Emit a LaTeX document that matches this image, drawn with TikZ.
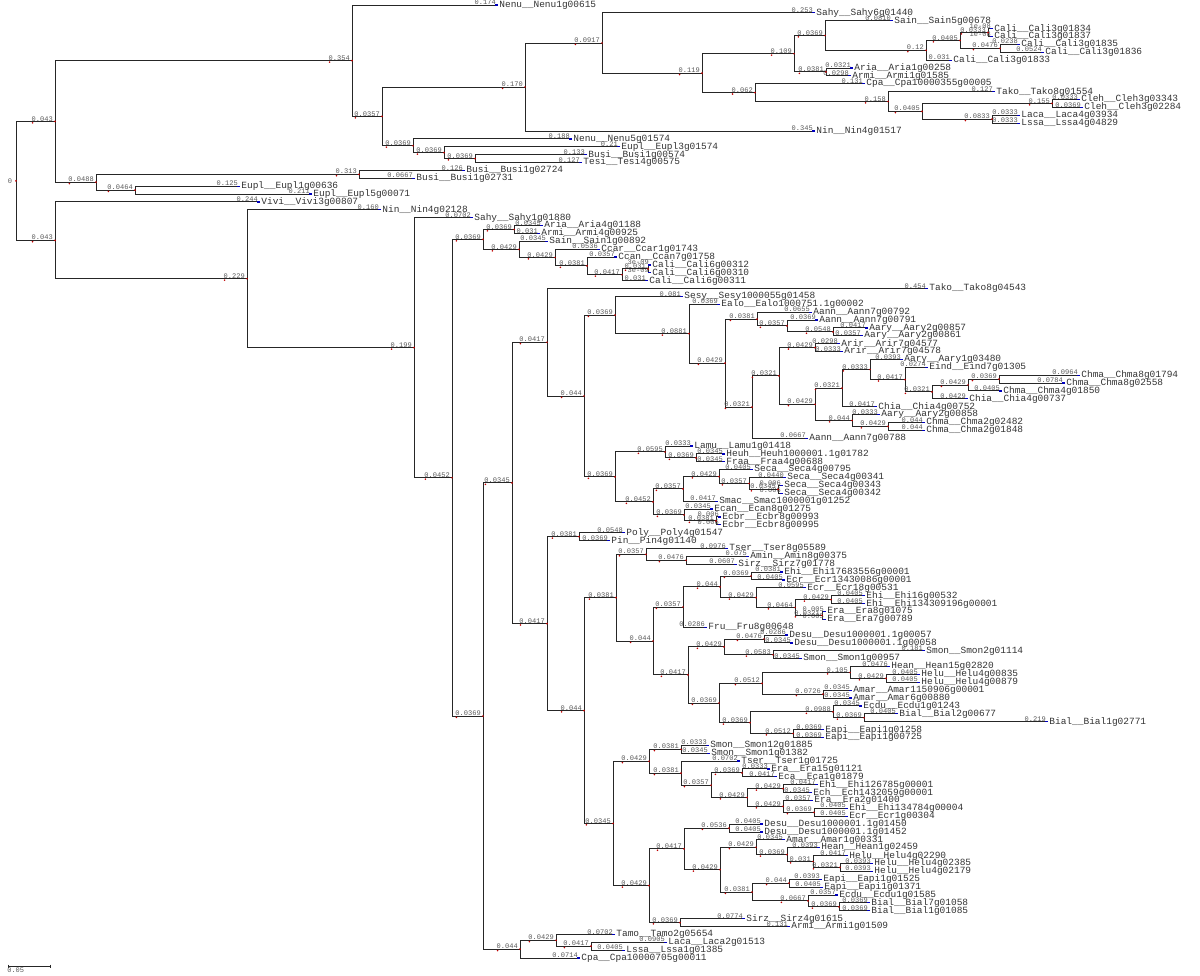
\documentclass[tikz,border=0pt]{standalone}
\usepackage{fontspec}
\newfontfamily\treefont{Liberation Mono}
\usetikzlibrary{calc}
\pgfdeclarelayer{bg}
\pgfsetlayers{bg,main}

\tikzset{
  branch/.style={draw=black!85, line width=0.55pt},
  tipmark/.style={draw=blue!75!black, line width=0.7pt},
  nodemark/.style={fill=red!75!black},
  blen/.style={anchor=south east, inner sep=0.2pt, xshift=-0.8pt, yshift=-0.3pt,
    text=black!65, font=\treefont\fontsize{4}{4}\selectfont},
  taxonlabel/.style={anchor=west, inner sep=0.6pt, text=black!80,
    font=\treefont\fontsize{5.4}{6}\selectfont},
}

% a tip: name, x (px), row, label
\newcommand{\taxon}[4]{%
  \coordinate (#1) at (#2,{5+7.876*#3});
  \expandafter\def\csname isleaf#1\endcsname{}%
  \draw[tipmark] (#1) -- ++(-3.5,0);
  \node[taxonlabel] (#1lab) at (#1) {\detokenize{#4}};}

% a clade: name, x (px), child, length, child, length
\newcommand{\clade}[6]{%
  \path let \p1=(#3), \p2=(#5) in coordinate (#1) at ({#2*0.02cm},{(\y1+\y2)/2});
  \begin{pgfonlayer}{bg}
    \draw[branch] (#1) |- (#3) node[blen] (#3len) {#4};
    \draw[branch] (#1) |- (#5) node[blen] (#5len) {#6};
  \end{pgfonlayer}
  \fill[nodemark] (#1) circle (0.55pt);
  \ifcsname isleaf#3\endcsname\else\fill[nodemark] ([shift={(1pt,-0.5pt)}]#3len.south west) circle (0.5pt);\fi
  \ifcsname isleaf#5\endcsname\else\fill[nodemark] ([shift={(1pt,-0.5pt)}]#5len.south west) circle (0.5pt);\fi}

\begin{document}
\begin{tikzpicture}[x=0.02cm,y=-0.02cm]
\useasboundingbox (0,0) rectangle (1200,976);

% tips, top to bottom
\taxon{t0}{498}{0}{Nenu__Nenu1g00615}
\taxon{t1}{815}{1}{Sahy__Sahy6g01440}
\taxon{t2}{893}{2}{Sain__Sain5g00678}
\taxon{t3}{993}{3}{Cali__Cali3g01834}
\taxon{t4}{993}{4}{Cali__Cali3g01837}
\taxon{t5}{1020}{5}{Cali__Cali3g01835}
\taxon{t6}{1044}{6}{Cali__Cali3g01836}
\taxon{t7}{952}{7}{Cali__Cali3g01833}
\taxon{t8}{853}{8}{Aria__Aria1g00258}
\taxon{t9}{851}{9}{Armi__Armi1g01585}
\taxon{t10}{865}{10}{Cpa__Cpa10000355g00005}
\taxon{t11}{995}{11}{Tako__Tako8g01554}
\taxon{t12}{1080}{12}{Cleh__Cleh3g03343}
\taxon{t13}{1083}{13}{Cleh__Cleh3g02284}
\taxon{t14}{1020}{14}{Laca__Laca4g03934}
\taxon{t15}{1020}{15}{Lssa__Lssa4g04829}
\taxon{t16}{815}{16}{Nin__Nin4g01517}
\taxon{t17}{572}{17}{Nenu__Nenu5g01574}
\taxon{t18}{620}{18}{Eupl__Eupl3g01574}
\taxon{t19}{587}{19}{Busi__Busi1g00574}
\taxon{t20}{582}{20}{Tesi__Tesi4g00575}
\taxon{t21}{465}{21}{Busi__Busi1g02724}
\taxon{t22}{415}{22}{Busi__Busi1g02731}
\taxon{t23}{240}{23}{Eupl__Eupl1g00636}
\taxon{t24}{312}{24}{Eupl__Eupl5g00071}
\taxon{t25}{260}{25}{Vivi__Vivi3g00807}
\taxon{t26}{381}{26}{Nin__Nin4g02128}
\taxon{t27}{473}{27}{Sahy__Sahy1g01880}
\taxon{t28}{543}{28}{Aria__Aria4g01188}
\taxon{t29}{540}{29}{Armi__Armi4g00925}
\taxon{t30}{548}{30}{Sain__Sain1g00892}
\taxon{t31}{600}{31}{Ccar__Ccar1g01743}
\taxon{t32}{617}{32}{Ccan__Ccan7g01758}
\taxon{t33}{651}{33}{Cali__Cali6g00312}
\taxon{t34}{651}{34}{Cali__Cali6g00310}
\taxon{t35}{648}{35}{Cali__Cali6g00311}
\taxon{t36}{928}{36}{Tako__Tako8g04543}
\taxon{t37}{683}{37}{Sesy__Sesy1000055g01458}
\taxon{t38}{720}{38}{Ealo__Ealo1000751.1g00002}
\taxon{t39}{812}{39}{Aann__Aann7g00792}
\taxon{t40}{818}{40}{Aann__Aann7g00791}
\taxon{t41}{868}{41}{Aary__Aary2g00857}
\taxon{t42}{863}{42}{Aary__Aary2g00861}
\taxon{t43}{840}{43}{Arir__Arir7g04577}
\taxon{t44}{843}{44}{Arir__Arir7g04578}
\taxon{t45}{903}{45}{Aary__Aary1g03480}
\taxon{t46}{928}{46}{Eind__Eind7g01305}
\taxon{t47}{1080}{47}{Chma__Chma8g01794}
\taxon{t48}{1065}{48}{Chma__Chma8g02558}
\taxon{t49}{1002}{49}{Chma__Chma4g01850}
\taxon{t50}{968}{50}{Chia__Chia4g00737}
\taxon{t51}{877}{51}{Chia__Chia4g00752}
\taxon{t52}{880}{52}{Aary__Aary2g00858}
\taxon{t53}{925}{53}{Chma__Chma2g02482}
\taxon{t54}{925}{54}{Chma__Chma2g01848}
\taxon{t55}{808}{55}{Aann__Aann7g00788}
\taxon{t56}{693}{56}{Lamu__Lamu1g01418}
\taxon{t57}{725}{57}{Heuh__Heuh1000001.1g01782}
\taxon{t58}{725}{58}{Fraa__Fraa4g00688}
\taxon{t59}{753}{59}{Seca__Seca4g00795}
\taxon{t60}{786}{60}{Seca__Seca4g00341}
\taxon{t61}{783}{61}{Seca__Seca4g00343}
\taxon{t62}{783}{62}{Seca__Seca4g00342}
\taxon{t63}{718}{63}{Smac__Smac1000001g01252}
\taxon{t64}{713}{64}{Ecan__Ecan8g01275}
\taxon{t65}{721}{65}{Ecbr__Ecbr8g00993}
\taxon{t66}{721}{66}{Ecbr__Ecbr8g00995}
\taxon{t67}{625}{67}{Poly__Poly4g01547}
\taxon{t68}{610}{68}{Pin__Pin4g01140}
\taxon{t69}{728}{69}{Tser__Tser8g05589}
\taxon{t70}{749}{70}{Amin__Amin8g00375}
\taxon{t71}{737}{71}{Sirz__Sirz7g01778}
\taxon{t72}{783}{72}{Ehi__Ehi17683556g00001}
\taxon{t73}{785}{73}{Ecr__Ecr13430086g00001}
\taxon{t74}{806}{74}{Ecr__Ecr18g00531}
\taxon{t75}{865}{75}{Ehi__Ehi16g00532}
\taxon{t76}{865}{76}{Ehi__Ehi134309196g00001}
\taxon{t77}{826}{77}{Era__Era8g01075}
\taxon{t78}{826}{78}{Era__Era7g00789}
\taxon{t79}{707}{79}{Fru__Fru8g00648}
\taxon{t80}{788}{80}{Desu__Desu1000001.1g00057}
\taxon{t81}{793}{81}{Desu__Desu1000001.1g00058}
\taxon{t82}{925}{82}{Smon__Smon2g01114}
\taxon{t83}{802}{83}{Smon__Smon1g00957}
\taxon{t84}{890}{84}{Hean__Hean15g02820}
\taxon{t85}{920}{85}{Helu__Helu4g00835}
\taxon{t86}{920}{86}{Helu__Helu4g00879}
\taxon{t87}{852}{87}{Amar__Amar1150906g00001}
\taxon{t88}{852}{88}{Amar__Amar6g00880}
\taxon{t89}{862}{89}{Ecdu__Ecdu1g01243}
\taxon{t90}{898}{90}{Bial__Bial2g00677}
\taxon{t91}{1048}{91}{Bial__Bial1g02771}
\taxon{t92}{824}{92}{Eapi__Eapi1g01258}
\taxon{t93}{824}{93}{Eapi__Eapi1g00725}
\taxon{t94}{709}{94}{Smon__Smon12g01885}
\taxon{t95}{710}{95}{Smon__Smon1g01382}
\taxon{t96}{740}{96}{Tser__Tser1g01725}
\taxon{t97}{770}{97}{Era__Era15g01121}
\taxon{t98}{777}{98}{Eca__Eca1g01879}
\taxon{t99}{818}{99}{Ehi__Ehi126785g00001}
\taxon{t100}{812}{100}{Ech__Ech1432059g00001}
\taxon{t101}{813}{101}{Era__Era2g01400}
\taxon{t102}{848}{102}{Ehi__Ehi134784g00004}
\taxon{t103}{848}{103}{Ecr__Ecr1g00304}
\taxon{t104}{763}{104}{Desu__Desu1000001.1g01450}
\taxon{t105}{763}{105}{Desu__Desu1000001.1g01452}
\taxon{t106}{785}{106}{Amar__Amar1g00331}
\taxon{t107}{820}{107}{Hean__Hean1g02459}
\taxon{t108}{848}{108}{Helu__Helu4g02290}
\taxon{t109}{873}{109}{Helu__Helu4g02385}
\taxon{t110}{873}{110}{Helu__Helu4g02179}
\taxon{t111}{822}{111}{Eapi__Eapi1g01525}
\taxon{t112}{823}{112}{Eapi__Eapi1g01371}
\taxon{t113}{838}{113}{Ecdu__Ecdu1g01585}
\taxon{t114}{870}{114}{Bial__Bial7g01058}
\taxon{t115}{870}{115}{Bial__Bial1g01085}
\taxon{t116}{745}{116}{Sirz__Sirz4g01615}
\taxon{t117}{790}{117}{Armi__Armi1g01509}
\taxon{t118}{615}{118}{Tamo__Tamo2g05654}
\taxon{t119}{667}{119}{Laca__Laca2g01513}
\taxon{t120}{625}{120}{Lssa__Lssa1g01385}
\taxon{t121}{580}{121}{Cpa__Cpa10000705g00011}

% upper clade
\clade{M}{988}{t3}{1e-08}{t4}{1e-08}
\clade{N}{1000}{t5}{0.0238}{t6}{0.0524}
\clade{L}{960}{M}{0.0333}{N}{0.0476}
\clade{K}{926}{L}{0.0405}{t7}{0.031}
\clade{I}{825}{t2}{0.0810}{K}{0.12}
\clade{J}{826}{t8}{0.0321}{t9}{0.0298}
\clade{G}{794}{I}{0.0369}{J}{0.0381}
\clade{P}{1052}{t12}{0.0333}{t13}{0.0369}
\clade{Q}{992}{t14}{0.0333}{t15}{0.0333}
\clade{O}{922}{P}{0.155}{Q}{0.0833}
\clade{H2}{888}{t11}{0.127}{O}{0.0405}
\clade{H}{755}{t10}{0.131}{H2}{0.158}
\clade{F}{702}{G}{0.109}{H}{0.062}
\clade{E}{602}{t1}{0.253}{F}{0.119}
\clade{C}{525}{E}{0.0917}{t16}{0.345}
\clade{D3}{475}{t19}{0.133}{t20}{0.127}
\clade{D2}{444}{t18}{0.21}{D3}{0.0369}
\clade{D}{413}{t17}{0.188}{D2}{0.0369}
\clade{A1b}{382}{C}{0.170}{D}{0.0369}
\clade{A1}{352}{t0}{0.174}{A1b}{0.0357}
\clade{R}{359}{t21}{0.126}{t22}{0.0667}
\clade{S}{135}{t23}{0.125}{t24}{0.211}
\clade{A2}{96}{R}{0.313}{S}{0.0464}
\clade{A}{55}{A1}{0.354}{A2}{0.0488}

% lower clade
\clade{V7}{648}{t33}{3e-09}{t34}{3e-09}
\clade{V6}{622}{V7}{0.031}{t35}{0.031}
\clade{V5}{587}{t32}{0.0357}{V6}{0.0417}
\clade{V4}{555}{t31}{0.0536}{V5}{0.0381}
\clade{V3}{519}{t30}{0.0345}{V4}{0.0429}
\clade{V2}{514}{t28}{0.0345}{t29}{0.031}
\clade{V1}{483}{V2}{0.0369}{V3}{0.0429}
\clade{zg}{833}{t41}{0.0417}{t42}{0.0357}
\clade{zf}{787}{t40}{0.0369}{zg}{0.0548}
\clade{zd}{757}{t39}{0.0655}{zf}{0.0357}
\clade{zi}{815}{t43}{0.0298}{t44}{0.0333}
\clade{zq}{999}{t47}{0.0964}{t48}{0.0784}
\clade{zp}{968}{zq}{0.0369}{t49}{0.0405}
\clade{zo}{932}{zp}{0.0429}{t50}{0.0429}
\clade{zn}{905}{t46}{0.0274}{zo}{0.0321}
\clade{zm}{870}{t45}{0.0393}{zn}{0.0417}
\clade{zk}{842}{zm}{0.0333}{t51}{0.0417}
\clade{zr}{888}{t53}{0.044}{t54}{0.044}
\clade{zl}{852}{t52}{0.0333}{zr}{0.0429}
\clade{zj}{815}{zk}{0.0321}{zl}{0.044}
\clade{zh}{779}{zi}{0.0429}{zj}{0.0429}
\clade{ze}{752}{zh}{0.0321}{t55}{0.0667}
\clade{zc}{725}{zd}{0.0381}{ze}{0.0321}
\clade{zb}{689}{t38}{0.0369}{zc}{0.0429}
\clade{za}{615}{t37}{0.081}{zb}{0.0881}
\clade{sh}{778}{t61}{0.006}{t62}{0.006}
\clade{sg}{749}{t60}{0.0440}{sh}{0.0345}
\clade{sf}{719}{t59}{0.0405}{sg}{0.0357}
\clade{se}{683}{sf}{0.0429}{t63}{0.0417}
\clade{sj}{716}{t65}{0.006}{t66}{0.006}
\clade{si}{684}{t64}{0.0345}{sj}{0.0381}
\clade{sd}{653}{se}{0.0357}{si}{0.0369}
\clade{sc}{696}{t57}{0.0345}{t58}{0.0345}
\clade{sb}{665}{t56}{0.0333}{sc}{0.0369}
\clade{sa}{615}{sb}{0.0595}{sd}{0.0452}
\clade{Z2}{584}{za}{0.0369}{sa}{0.0369}
\clade{Z}{547}{t36}{0.454}{Z2}{0.044}
\clade{AA1}{579}{t67}{0.0548}{t68}{0.0369}
\clade{AC2}{686}{t70}{0.075}{t71}{0.0607}
\clade{AC1}{646}{t69}{0.0976}{AC2}{0.0476}
\clade{AC6}{751}{t72}{0.0381}{t73}{0.0405}
\clade{AC9}{831}{t75}{0.0405}{t76}{0.0405}
\clade{AC10}{822}{t77}{0.005}{t78}{0.005}
\clade{AC8}{795}{AC9}{0.0429}{AC10}{0.0321}
\clade{AC7}{756}{t74}{0.0595}{AC8}{0.0464}
\clade{AC5}{720}{AC6}{0.0369}{AC7}{0.0429}
\clade{AC4}{683}{AC5}{0.044}{t79}{0.0286}
\clade{AC13}{764}{t80}{0.0286}{t81}{0.0345}
\clade{AC14}{773}{t82}{0.181}{t83}{0.0345}
\clade{AC12}{724}{AC13}{0.0476}{AC14}{0.0583}
\clade{AC18}{886}{t85}{0.0405}{t86}{0.0405}
\clade{AC17}{850}{t84}{0.0476}{AC18}{0.0429}
\clade{AC19}{823}{t87}{0.0345}{t88}{0.0345}
\clade{AC16}{762}{AC17}{0.105}{AC19}{0.0726}
\clade{AC22}{864}{t90}{0.0405}{t91}{0.219}
\clade{AC21}{833}{t89}{0.0345}{AC22}{0.0369}
\clade{AC23}{793}{t92}{0.0369}{t93}{0.0369}
\clade{AC20}{750}{AC21}{0.0988}{AC23}{0.0512}
\clade{AC15}{719}{AC16}{0.0512}{AC20}{0.0369}
\clade{AC11}{688}{AC12}{0.0429}{AC15}{0.0369}
\clade{AC3}{653}{AC4}{0.0357}{AC11}{0.0417}
\clade{AC}{616}{AC1}{0.0357}{AC3}{0.044}
\clade{AD2}{681}{t94}{0.0333}{t95}{0.0345}
\clade{AD5}{742}{t97}{0.0333}{t98}{0.0417}
\clade{AD7}{783}{t99}{0.0417}{t100}{0.0345}
\clade{AD9}{814}{t102}{0.0405}{t103}{0.0405}
\clade{AD8}{783}{t101}{0.0357}{AD9}{0.0369}
\clade{AD6}{747}{AD7}{0.0429}{AD8}{0.0429}
\clade{AD4}{711}{AD5}{0.0369}{AD6}{0.0429}
\clade{AD3}{681}{t96}{0.0702}{AD4}{0.0357}
\clade{AD1}{649}{AD2}{0.0381}{AD3}{0.0381}
\clade{AE2}{729}{t104}{0.0405}{t105}{0.0405}
\clade{AE7}{840}{t109}{0.0393}{t110}{0.0393}
\clade{AE6}{813}{t108}{0.0417}{AE7}{0.0321}
\clade{AE5}{787}{t107}{0.0393}{AE6}{0.031}
\clade{AE4}{756}{t106}{0.0345}{AE5}{0.0369}
\clade{AE9}{789}{t111}{0.0393}{t112}{0.0405}
\clade{AE11}{839}{t114}{0.0369}{t115}{0.0369}
\clade{AE10}{808}{t113}{0.0357}{AE11}{0.0369}
\clade{AE8}{752}{AE9}{0.044}{AE10}{0.0667}
\clade{AE3}{720}{AE4}{0.0429}{AE8}{0.0381}
\clade{AE1}{684}{AE2}{0.0536}{AE3}{0.0429}
\clade{AE12}{680}{t116}{0.0774}{t117}{0.131}
\clade{AE}{649}{AE1}{0.0417}{AE12}{0.0369}
\clade{AD}{613}{AD1}{0.0429}{AE}{0.0429}
\clade{AB}{584}{AC}{0.0381}{AD}{0.0345}
\clade{AA}{547}{AA1}{0.0381}{AB}{0.044}
\clade{Y}{512}{Z}{0.0417}{AA}{0.0417}
\clade{BB2}{591}{t119}{0.0905}{t120}{0.0405}
\clade{BB1}{556}{t118}{0.0702}{BB2}{0.0417}
\clade{BB}{520}{BB1}{0.0429}{t121}{0.0714}
\clade{W}{483}{Y}{0.0345}{BB}{0.044}
\clade{V}{452}{V1}{0.0369}{W}{0.0369}
\clade{U}{414}{t27}{0.0702}{V}{0.0452}
\clade{T}{247}{t26}{0.160}{U}{0.199}
\clade{B}{55}{t25}{0.244}{T}{0.229}

% root
\clade{root}{16}{A}{0.043}{B}{0.043}
\node[blen, anchor=east, xshift=-1pt, yshift=0pt] (rootlab) at (root) {0};

% scale bar
\coordinate (sb1) at (8,966);
\coordinate (sb2) at (50,966);
\draw[branch] (sb1) -- (sb2);
\draw[branch] (sb1) ++(0,-1.5) -- ++(0,3);
\draw[branch] (sb2) ++(0,-1.5) -- ++(0,3);
\node[blen, anchor=north west, xshift=0pt, yshift=-0.5pt] (sblab) at (sb1) {0.05};
\end{tikzpicture}
\end{document}
